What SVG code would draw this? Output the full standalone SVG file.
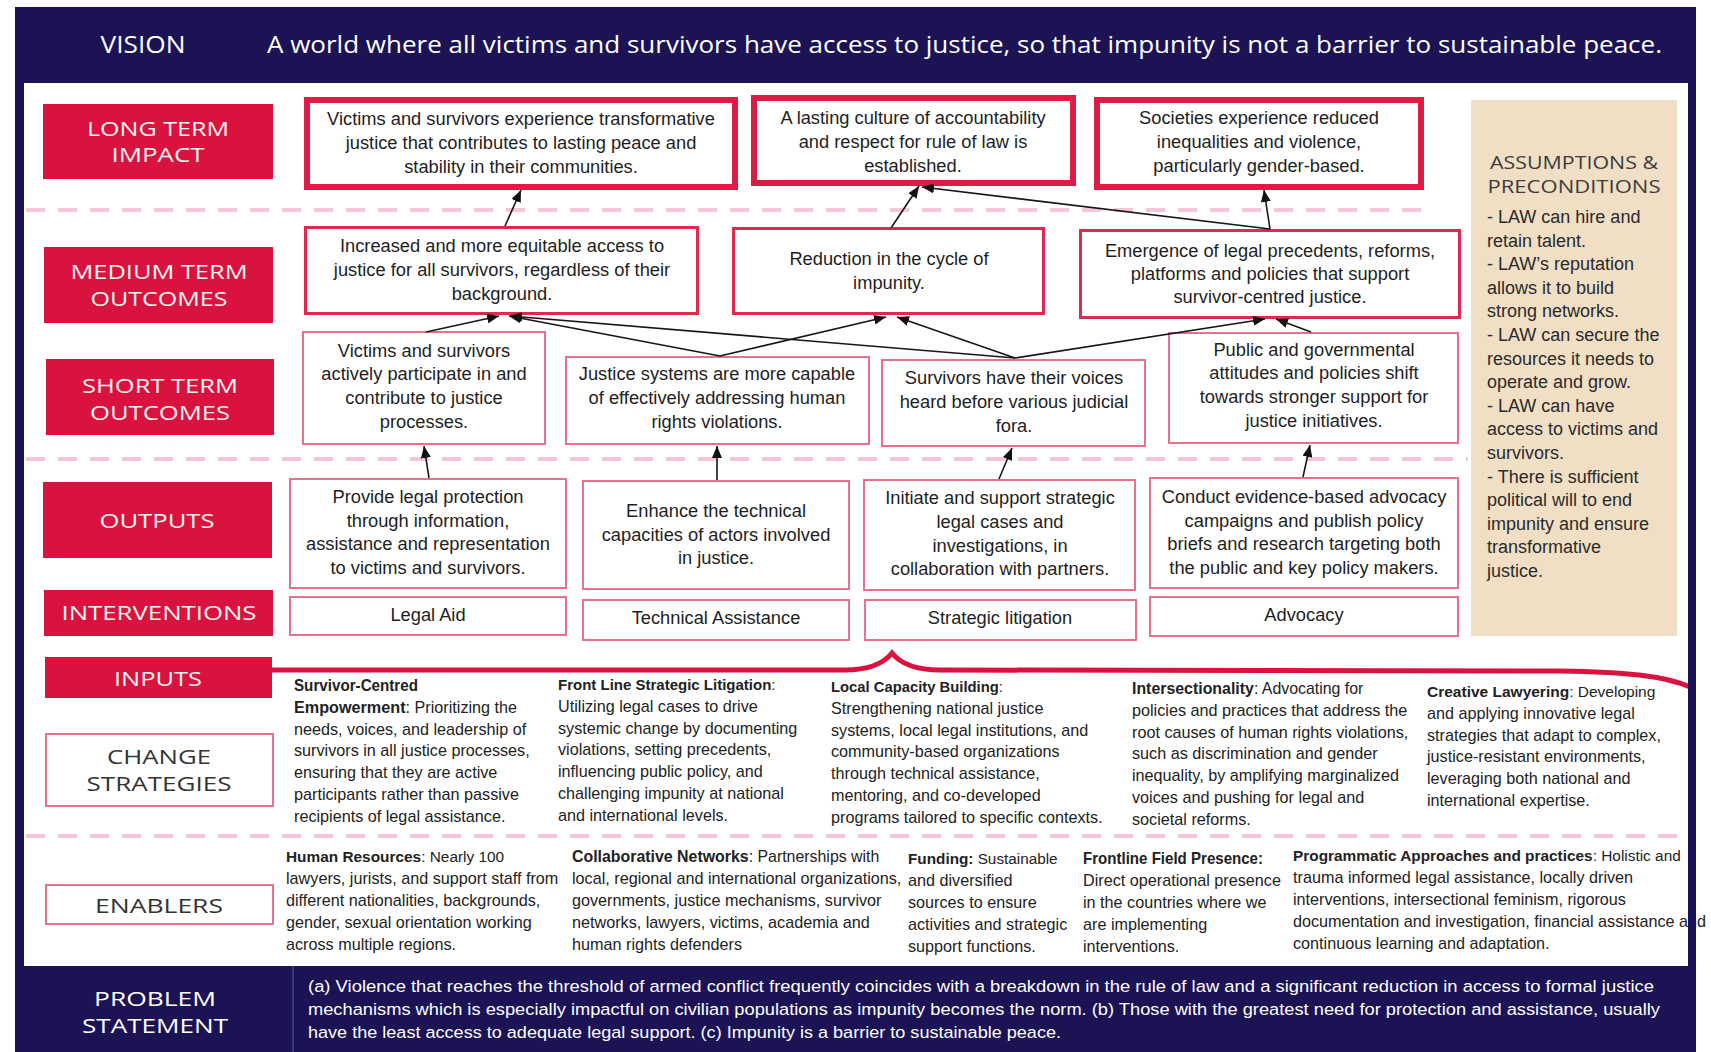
<svg xmlns="http://www.w3.org/2000/svg" width="1711" height="1052" viewBox="0 0 1711 1052">
<defs>
<style>
.lbl{font-family:"Open Sans","Liberation Sans",sans-serif;font-size:19.5px;fill:#fff4ee;text-anchor:middle}
.dk{fill:#3a3a3a}
.bx{font-family:"Liberation Sans",Arial,sans-serif;font-size:18.3px;fill:#1e1e1e;text-anchor:middle}
.cs{font-family:"Liberation Sans",Arial,sans-serif;font-size:16.2px;fill:#222}
.as{font-family:"Liberation Sans",Arial,sans-serif;font-size:18px;fill:#2a2a2a}
.ps{font-family:"Liberation Sans",Arial,sans-serif;font-size:17.2px;fill:#fff}
.b{font-weight:700}
.redlbl{fill:#d9123f}
.lt{fill:#fff;stroke:#dc1c45;stroke-width:6}
.mt{fill:#fff;stroke:#e0294f;stroke-width:3}
.st{fill:#fff;stroke:#e8708a;stroke-width:2}
.dash{stroke:#f5c6d9;stroke-width:4;stroke-dasharray:19 13;fill:none}
.arr{stroke:#161616;stroke-width:1.6;fill:none;marker-end:url(#ah)}
</style>
<marker id="ah" viewBox="0 0 12 10" refX="12" refY="5" markerWidth="12" markerHeight="10" markerUnits="userSpaceOnUse" orient="auto">
<path d="M0,0 L12,5 L0,10 z" fill="#111"/>
</marker>
</defs>
<rect x="0" y="0" width="1711" height="1052" fill="#fff"/>
<rect x="15" y="7" width="1681" height="1045" fill="#1b1354"/>
<rect x="24" y="83" width="1664" height="883" fill="#fff"/>

<g id="vision">
<text x="143" y="53" text-anchor="middle" textLength="85" lengthAdjust="spacingAndGlyphs" style="font-family:'Open Sans','Liberation Sans',sans-serif;font-size:23px;fill:#fff">VISION</text>
<text x="267" y="53" style="font-family:'Open Sans','Liberation Sans',sans-serif;font-size:23px;fill:#fff" textLength="1395" lengthAdjust="spacingAndGlyphs">A world where all victims and survivors have access to justice, so that impunity is not a barrier to sustainable peace.</text>
</g>

<g id="separators">
<line class="dash" x1="26" y1="210" x2="1428" y2="210"/>
<line class="dash" x1="26" y1="459" x2="1468" y2="459"/>
<line class="dash" x1="26" y1="836" x2="1684" y2="836"/>
</g>

<g id="assumptions">
<rect x="1471" y="100" width="206" height="536" fill="#f0dfc5"/>
<text x="1574" y="169" text-anchor="middle" textLength="168" lengthAdjust="spacingAndGlyphs" style="font-family:'Open Sans','Liberation Sans',sans-serif;font-size:17.5px;fill:#3c3c3c">ASSUMPTIONS &amp;</text>
<text x="1574" y="193" text-anchor="middle" textLength="173" lengthAdjust="spacingAndGlyphs" style="font-family:'Open Sans','Liberation Sans',sans-serif;font-size:17.5px;fill:#3c3c3c">PRECONDITIONS</text>
<text class="as">
<tspan x="1487" y="223">- LAW can hire and</tspan>
<tspan x="1487" y="246.6">retain talent.</tspan>
<tspan x="1487" y="270.2">- LAW’s reputation</tspan>
<tspan x="1487" y="293.8">allows it to build</tspan>
<tspan x="1487" y="317.4">strong networks.</tspan>
<tspan x="1487" y="341">- LAW can secure the</tspan>
<tspan x="1487" y="364.6">resources it needs to</tspan>
<tspan x="1487" y="388.2">operate and grow.</tspan>
<tspan x="1487" y="411.8">- LAW can have</tspan>
<tspan x="1487" y="435.4">access to victims and</tspan>
<tspan x="1487" y="459">survivors.</tspan>
<tspan x="1487" y="482.6">- There is sufficient</tspan>
<tspan x="1487" y="506.2">political will to end</tspan>
<tspan x="1487" y="529.8">impunity and ensure</tspan>
<tspan x="1487" y="553.4">transformative</tspan>
<tspan x="1487" y="577">justice.</tspan>
</text>
</g>

<g id="row-labels">
<g id="lbl-long"><rect class="redlbl" x="43" y="104" width="230" height="75"/>
<text class="lbl" x="158" y="136" textLength="142" lengthAdjust="spacingAndGlyphs">LONG TERM</text>
<text class="lbl" x="158" y="162" textLength="93" lengthAdjust="spacingAndGlyphs">IMPACT</text></g>
<g id="lbl-medium"><rect class="redlbl" x="44" y="247" width="229" height="76"/>
<text class="lbl" x="159" y="279" textLength="177" lengthAdjust="spacingAndGlyphs">MEDIUM TERM</text>
<text class="lbl" x="159" y="306" textLength="137" lengthAdjust="spacingAndGlyphs">OUTCOMES</text></g>
<g id="lbl-short"><rect class="redlbl" x="46" y="359" width="228" height="76"/>
<text class="lbl" x="160" y="393" textLength="156" lengthAdjust="spacingAndGlyphs">SHORT TERM</text>
<text class="lbl" x="160" y="420" textLength="140" lengthAdjust="spacingAndGlyphs">OUTCOMES</text></g>
<g id="lbl-outputs"><rect class="redlbl" x="43" y="482" width="229" height="76"/>
<text class="lbl" x="157" y="528" textLength="115" lengthAdjust="spacingAndGlyphs">OUTPUTS</text></g>
<g id="lbl-interventions"><rect class="redlbl" x="44" y="590" width="229" height="46"/>
<text class="lbl" x="159" y="620" textLength="195" lengthAdjust="spacingAndGlyphs">INTERVENTIONS</text></g>
<g id="lbl-inputs"><rect class="redlbl" x="45" y="657" width="227" height="41"/>
<text class="lbl" x="158" y="686" textLength="88" lengthAdjust="spacingAndGlyphs">INPUTS</text></g>
<g id="lbl-change"><rect x="46" y="734" width="227" height="72" fill="#fff" stroke="#e8708a" stroke-width="2"/>
<text class="lbl dk" x="159" y="764" textLength="104" lengthAdjust="spacingAndGlyphs" style="fill:#333">CHANGE</text>
<text class="lbl dk" x="159" y="791" textLength="145" lengthAdjust="spacingAndGlyphs" style="fill:#333">STRATEGIES</text></g>
<g id="lbl-enablers"><rect x="46" y="885" width="227" height="39" fill="#fff" stroke="#e8708a" stroke-width="2"/>
<text class="lbl dk" x="159" y="913" textLength="128" lengthAdjust="spacingAndGlyphs" style="fill:#333">ENABLERS</text></g>
</g>

<g id="brace">
<path d="M272,670 L845,670 C870,670 884,663 892,653 C900,663 914,670 940,670 L1560,671 C1628,672 1665,676 1690,687" fill="none" stroke="#d9123f" stroke-width="5"/>
</g>

<g id="lt1"><rect class="lt" x="307" y="100" width="428" height="87"/>
<text class="bx"><tspan x="521" y="125">Victims and survivors experience transformative</tspan><tspan x="521" y="149">justice that contributes to lasting peace and</tspan><tspan x="521" y="173">stability in their communities.</tspan></text></g>
<g id="lt2"><rect class="lt" x="754" y="98" width="319" height="85"/>
<text class="bx"><tspan x="913" y="124">A lasting culture of accountability</tspan><tspan x="913" y="148">and respect for rule of law is</tspan><tspan x="913" y="172">established.</tspan></text></g>
<g id="lt3"><rect class="lt" x="1097" y="100" width="324" height="87"/>
<text class="bx"><tspan x="1259" y="124">Societies experience reduced</tspan><tspan x="1259" y="148">inequalities and violence,</tspan><tspan x="1259" y="172">particularly gender-based.</tspan></text></g>

<g id="mt1"><rect class="mt" x="305.5" y="227.5" width="392" height="86"/>
<text class="bx"><tspan x="502" y="252">Increased and more equitable access to</tspan><tspan x="502" y="276">justice for all survivors, regardless of their</tspan><tspan x="502" y="300">background.</tspan></text></g>
<g id="mt2"><rect class="mt" x="733.5" y="228.5" width="310" height="85"/>
<text class="bx"><tspan x="889" y="265">Reduction in the cycle of</tspan><tspan x="889" y="289">impunity.</tspan></text></g>
<g id="mt3"><rect class="mt" x="1080.5" y="230.5" width="379" height="87"/>
<text class="bx"><tspan x="1270" y="257">Emergence of legal precedents, reforms,</tspan><tspan x="1270" y="280">platforms and policies that support</tspan><tspan x="1270" y="303">survivor-centred justice.</tspan></text></g>

<g id="st1"><rect class="st" x="303" y="332" width="242" height="112"/>
<text class="bx"><tspan x="424" y="357">Victims and survivors</tspan><tspan x="424" y="380">actively participate in and</tspan><tspan x="424" y="404">contribute to justice</tspan><tspan x="424" y="428">processes.</tspan></text></g>
<g id="st2"><rect class="st" x="566" y="357" width="303" height="87"/>
<text class="bx"><tspan x="717" y="380">Justice systems are more capable</tspan><tspan x="717" y="404">of effectively addressing human</tspan><tspan x="717" y="428">rights violations.</tspan></text></g>
<g id="st3"><rect class="st" x="882" y="360" width="263" height="86"/>
<text class="bx"><tspan x="1014" y="384">Survivors have their voices</tspan><tspan x="1014" y="408">heard before various judicial</tspan><tspan x="1014" y="432">fora.</tspan></text></g>
<g id="st4"><rect class="st" x="1169" y="333" width="289" height="110"/>
<text class="bx"><tspan x="1314" y="356">Public and governmental</tspan><tspan x="1314" y="379">attitudes and policies shift</tspan><tspan x="1314" y="403">towards stronger support for</tspan><tspan x="1314" y="427">justice initiatives.</tspan></text></g>

<g id="o1"><rect class="st" x="290" y="479" width="276" height="109"/>
<text class="bx"><tspan x="428" y="503">Provide legal protection</tspan><tspan x="428" y="527">through information,</tspan><tspan x="428" y="550">assistance and representation</tspan><tspan x="428" y="574">to victims and survivors.</tspan></text></g>
<g id="o2"><rect class="st" x="583" y="481" width="266" height="108"/>
<text class="bx"><tspan x="716" y="517">Enhance the technical</tspan><tspan x="716" y="541">capacities of actors involved</tspan><tspan x="716" y="564">in justice.</tspan></text></g>
<g id="o3"><rect class="st" x="864" y="480" width="271" height="110"/>
<text class="bx"><tspan x="1000" y="504">Initiate and support strategic</tspan><tspan x="1000" y="528">legal cases and</tspan><tspan x="1000" y="552">investigations, in</tspan><tspan x="1000" y="575">collaboration with partners.</tspan></text></g>
<g id="o4"><rect class="st" x="1150" y="478" width="308" height="110"/>
<text class="bx"><tspan x="1304" y="503">Conduct evidence-based advocacy</tspan><tspan x="1304" y="527">campaigns and publish policy</tspan><tspan x="1304" y="550">briefs and research targeting both</tspan><tspan x="1304" y="574">the public and key policy makers.</tspan></text></g>

<g id="i1"><rect class="st" x="290" y="597" width="276" height="38"/><text class="bx" x="428" y="621">Legal Aid</text></g>
<g id="i2"><rect class="st" x="583" y="600" width="266" height="40"/><text class="bx" x="716" y="624">Technical Assistance</text></g>
<g id="i3"><rect class="st" x="865" y="600" width="271" height="40"/><text class="bx" x="1000" y="624">Strategic litigation</text></g>
<g id="i4"><rect class="st" x="1150" y="597" width="308" height="39"/><text class="bx" x="1304" y="621">Advocacy</text></g>

<g id="change-strategies">
<text class="cs b" x="294" y="691" textLength="124" lengthAdjust="spacingAndGlyphs">Survivor-Centred</text>
<text class="cs"><tspan x="294" y="712.8"><tspan class="b">Empowerment</tspan>: Prioritizing the</tspan><tspan x="294" y="734.6">needs, voices, and leadership of</tspan><tspan x="294" y="756.4">survivors in all justice processes,</tspan><tspan x="294" y="778.2">ensuring that they are active</tspan><tspan x="294" y="800">participants rather than passive</tspan><tspan x="294" y="821.8">recipients of legal assistance.</tspan></text>
<text class="cs" x="558" y="690" style="font-size:15px"><tspan class="b">Front Line Strategic Litigation</tspan>:</text>
<text class="cs"><tspan x="558" y="711.8">Utilizing legal cases to drive</tspan><tspan x="558" y="733.6">systemic change by documenting</tspan><tspan x="558" y="755.4">violations, setting precedents,</tspan><tspan x="558" y="777.2">influencing public policy, and</tspan><tspan x="558" y="799">challenging impunity at national</tspan><tspan x="558" y="820.8">and international levels.</tspan></text>
<text class="cs" x="831" y="692" style="font-size:14.8px"><tspan class="b">Local Capacity Building</tspan>:</text>
<text class="cs"><tspan x="831" y="713.8">Strengthening national justice</tspan><tspan x="831" y="735.6">systems, local legal institutions, and</tspan><tspan x="831" y="757.4">community-based organizations</tspan><tspan x="831" y="779.2">through technical assistance,</tspan><tspan x="831" y="801">mentoring, and co-developed</tspan><tspan x="831" y="822.8">programs tailored to specific contexts.</tspan></text>
<text class="cs" x="1132" y="694" style="font-size:15.9px"><tspan class="b">Intersectionality</tspan>: Advocating for</text>
<text class="cs"><tspan x="1132" y="715.8">policies and practices that address the</tspan><tspan x="1132" y="737.6">root causes of human rights violations,</tspan><tspan x="1132" y="759.4">such as discrimination and gender</tspan><tspan x="1132" y="781.2">inequality, by amplifying marginalized</tspan><tspan x="1132" y="803">voices and pushing for legal and</tspan><tspan x="1132" y="824.8">societal reforms.</tspan></text>
<text class="cs" x="1427" y="697" style="font-size:15.5px"><tspan class="b">Creative Lawyering</tspan>: Developing</text>
<text class="cs"><tspan x="1427" y="718.8">and applying innovative legal</tspan><tspan x="1427" y="740.6">strategies that adapt to complex,</tspan><tspan x="1427" y="762.4">justice-resistant environments,</tspan><tspan x="1427" y="784.2">leveraging both national and</tspan><tspan x="1427" y="806">international expertise.</tspan></text>
</g>

<g id="enablers">
<text class="cs" x="286" y="862" style="font-size:15.4px"><tspan class="b">Human Resources</tspan>: Nearly 100</text>
<text class="cs"><tspan x="286" y="884">lawyers, jurists, and support staff from</tspan><tspan x="286" y="906">different nationalities, backgrounds,</tspan><tspan x="286" y="928">gender, sexual orientation working</tspan><tspan x="286" y="950">across multiple regions.</tspan></text>
<text class="cs" x="572" y="862" style="font-size:15.9px"><tspan class="b">Collaborative Networks</tspan>: Partnerships with</text>
<text class="cs"><tspan x="572" y="884">local, regional and international organizations,</tspan><tspan x="572" y="906">governments, justice mechanisms, survivor</tspan><tspan x="572" y="928">networks, lawyers, victims, academia and</tspan><tspan x="572" y="950">human rights defenders</tspan></text>
<text class="cs" x="908" y="864" style="font-size:15.3px"><tspan class="b">Funding:</tspan> Sustainable</text>
<text class="cs"><tspan x="908" y="886">and diversified</tspan><tspan x="908" y="908">sources to ensure</tspan><tspan x="908" y="930">activities and strategic</tspan><tspan x="908" y="952">support functions.</tspan></text>
<text class="cs b" x="1083" y="864" textLength="180" lengthAdjust="spacingAndGlyphs">Frontline Field Presence:</text>
<text class="cs"><tspan x="1083" y="886">Direct operational presence</tspan><tspan x="1083" y="908">in the countries where we</tspan><tspan x="1083" y="930">are implementing</tspan><tspan x="1083" y="952">interventions.</tspan></text>
<text class="cs" x="1293" y="861" style="font-size:15.4px"><tspan class="b">Programmatic Approaches and practices</tspan>: Holistic and</text>
<text class="cs"><tspan x="1293" y="883">trauma informed legal assistance, locally driven</tspan><tspan x="1293" y="905">interventions, intersectional feminism, rigorous</tspan><tspan x="1293" y="927">documentation and investigation, financial assistance and</tspan><tspan x="1293" y="949">continuous learning and adaptation.</tspan></text>
</g>

<g id="connectors">
<line class="arr" x1="505" y1="226" x2="521" y2="190"/>
<line class="arr" x1="891" y1="228" x2="919" y2="186"/>
<line class="arr" x1="1270" y1="229" x2="922" y2="187"/>
<line class="arr" x1="1270" y1="229" x2="1264" y2="190"/>
<line class="arr" x1="426" y1="332" x2="499" y2="316"/>
<line class="arr" x1="720" y1="356" x2="509" y2="316"/>
<line class="arr" x1="1015" y1="358" x2="510" y2="316"/>
<line class="arr" x1="720" y1="356" x2="886" y2="317"/>
<line class="arr" x1="1015" y1="358" x2="897" y2="317"/>
<line class="arr" x1="1015" y1="358" x2="1265" y2="319"/>
<line class="arr" x1="1311" y1="332" x2="1276" y2="319"/>
<line class="arr" x1="429" y1="478" x2="424" y2="446"/>
<line class="arr" x1="717" y1="480" x2="717" y2="446"/>
<line class="arr" x1="999" y1="479" x2="1012" y2="448"/>
<line class="arr" x1="1303" y1="477" x2="1310" y2="445"/>
</g>

<g id="problem-statement">
<line x1="293" y1="966" x2="293" y2="1052" stroke="#4b4685" stroke-width="1.5"/>
<text class="lbl" x="155" y="1006" textLength="122" lengthAdjust="spacingAndGlyphs" style="fill:#fff">PROBLEM</text>
<text class="lbl" x="155" y="1033" textLength="146" lengthAdjust="spacingAndGlyphs" style="fill:#fff">STATEMENT</text>
<text class="ps" x="308" y="992" textLength="1346" lengthAdjust="spacingAndGlyphs">(a) Violence that reaches the threshold of armed conflict frequently coincides with a breakdown in the rule of law and a significant reduction in access to formal justice</text>
<text class="ps" x="308" y="1015" textLength="1352" lengthAdjust="spacingAndGlyphs">mechanisms which is especially impactful on civilian populations as impunity becomes the norm. (b) Those with the greatest need for protection and assistance, usually</text>
<text class="ps" x="308" y="1038" textLength="753" lengthAdjust="spacingAndGlyphs">have the least access to adequate legal support. (c) Impunity is a barrier to sustainable peace.</text>
</g>

<rect x="1688" y="83" width="8" height="883" fill="#1b1354"/>
</svg>
